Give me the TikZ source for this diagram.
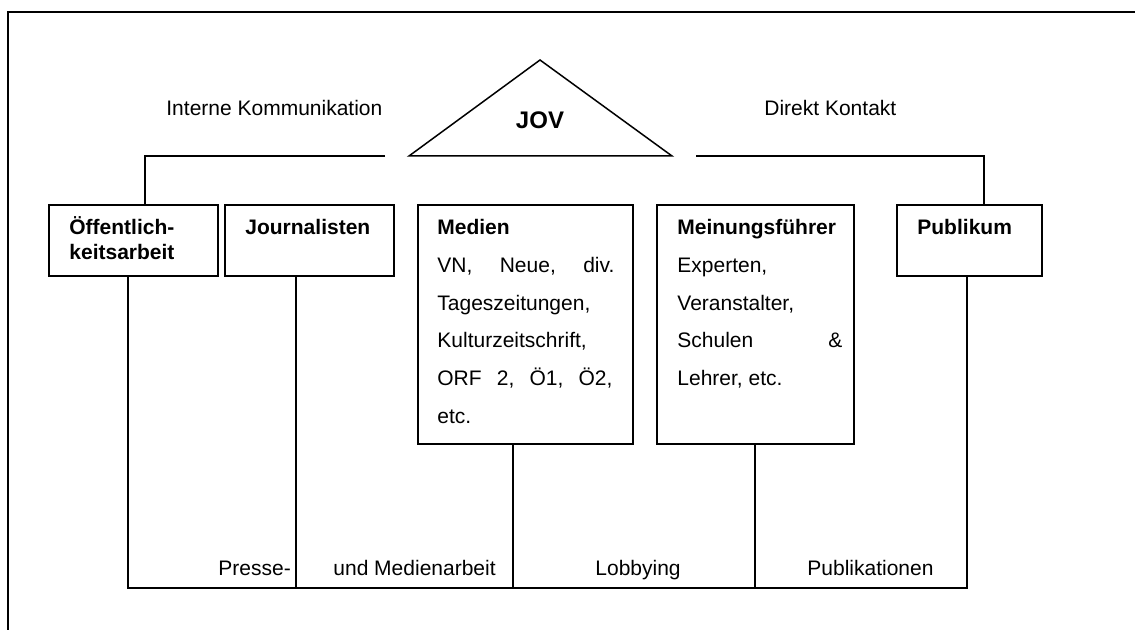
\documentclass[tikz,border=0pt]{standalone}
\usepackage{fontspec}
\setmainfont{Liberation Sans}
\begin{document}
\begin{tikzpicture}[x=0.5pt,y=-0.5pt,
  box/.style={draw, line width=0.85pt, inner sep=0pt, anchor=north west},
  conn/.style={line width=0.75pt},
  txt/.style={inner sep=0pt, anchor=base west, font=\fontsize{10.5}{12.6}\selectfont},
  btxt/.style={inner sep=0pt, anchor=base west, font=\fontsize{10.5}{12.6}\selectfont\bfseries}]
\useasboundingbox (0,0) rectangle (1135,630);
% outer frame
\draw[line width=0.85pt] (8,630) -- (8,12) -- (1135,12);

% JOV triangle
\coordinate (apex) at (540,60);
\coordinate (bl) at (409,156);
\coordinate (br) at (672,156);
\draw[conn] (apex) -- (br) -- (bl) -- cycle;
\node[btxt, anchor=base, font=\fontsize{12}{14}\selectfont\bfseries] (jov) at (540,129) {JOV};

% labels at top
\node[txt] (ik) at (166,115.5) {Interne Kommunikation};
\node[txt] (dk) at (764,115.5) {Direkt Kontakt};

% boxes
\node[box, minimum width=84.5pt, minimum height=35.5pt] (oe) at (48,204) {};
\node[box, minimum width=84.5pt, minimum height=35.5pt] (jo) at (224,204) {};
\node[box, minimum width=107.5pt, minimum height=119.5pt] (me) at (417,204) {};
\node[box, minimum width=98.5pt, minimum height=119.5pt] (mf) at (656,204) {};
\node[box, minimum width=72.5pt, minimum height=35.5pt] (pu) at (896,204) {};

% top connectors
\coordinate (la) at (385,156);
\coordinate (lb) at (145,156);
\draw[conn] (la) -- (lb) -- (lb |- oe.north);
\coordinate (ra) at (696,156);
\coordinate (rb) at (984,156);
\draw[conn] (ra) -- (rb) -- (rb |- pu.north);

% bottom connectors
\coordinate (b1) at (128,588);
\coordinate (b2) at (296,588);
\coordinate (b3) at (513,588);
\coordinate (b4) at (755,588);
\coordinate (b5) at (967,588);
\draw[conn] (b1 |- oe.south) -- (b1) -- (b5) -- (b5 |- pu.south);
\draw[conn] (b2 |- jo.south) -- (b2);
\draw[conn] (b3 |- me.south) -- (b3);
\draw[conn] (b4 |- mf.south) -- (b4);

% box texts
\node[btxt] (oe1) at (69,234.5) {Öffentlich-};
\node[btxt] (oe2) at (69,259.5) {keitsarbeit};
\node[btxt] (jo1) at (245,234.5) {Journalisten};
\node[btxt] (me0) at (437,234.5) {Medien};
\node[txt] (me1) at (437,273) {\hbox to 88.5pt{VN,\hfill Neue,\hfill div.}};
\node[txt] (me2) at (437,310.5) {Tageszeitungen,};
\node[txt] (me3) at (437,348) {Kulturzeitschrift,};
\node[txt] (me4) at (437,385.5) {\hbox to 87.5pt{ORF\hfill 2,\hfill Ö1,\hfill Ö2,}};
\node[txt] (me5) at (437,423) {etc.};
\node[btxt] (mf0) at (677,234.5) {Meinungsführer};
\node[txt] (mf1) at (677,273) {Experten,};
\node[txt] (mf2) at (677,310.5) {Veranstalter,};
\node[txt] (mf3) at (677,348) {\hbox to 82.5pt{Schulen\hfill\&}};
\node[txt] (mf4) at (677,385.5) {Lehrer, etc.};
\node[btxt] (pu1) at (917,234.5) {Publikum};

% bottom labels
\node[txt] (l1) at (218,575) {Presse-};
\node[txt] (l2) at (333,575) {und Medienarbeit};
\node[txt] (l3) at (595,575) {Lobbying};
\node[txt] (l4) at (807,575) {Publikationen};
\end{tikzpicture}
\end{document}
